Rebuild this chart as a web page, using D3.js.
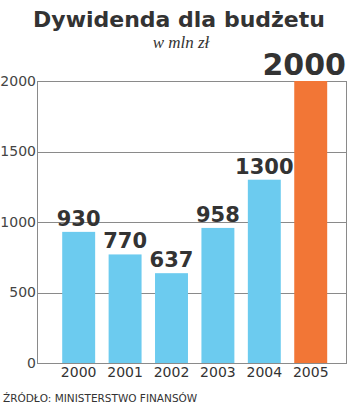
<!DOCTYPE html>
<html>
<head>
<meta charset="utf-8">
<script src="https://cdn.jsdelivr.net/npm/d3@7"></script>
<style>
  html, body { margin: 0; padding: 0; background: #fff; }
  svg { display: block; }
</style>
</head>
<body>
<svg id="chart" width="350" height="410"></svg>
<script>
// Dividends paid to the state budget, in millions of zloty
const years = ["2000", "2001", "2002", "2003", "2004", "2005"];
const values = [930, 770, 637, 958, 1300, 2000];
const yTicks = [0, 500, 1000, 1500, 2000];
const highlightYear = "2005";

const W = 350, H = 410;
const margin = { top: 81, right: 3, bottom: 47, left: 37 };
const left = margin.left, right = W - margin.right;
const frameColor = "#8a8a8a";
const sans = "'DejaVu Sans', sans-serif";

const svg = d3.select("#chart");

const x = d3.scaleBand()
  .domain(years)
  .range([left, right])
  .paddingInner(0.29)
  .paddingOuter(0.485)
  .align(0.56);

const y = d3.scaleLinear()
  .domain([0, 2000])
  .range([H - margin.bottom, margin.top]);

const rows = years.map((yr, i) => ({ year: yr, value: values[i] }));

// horizontal grid lines, including the top and bottom of the frame
svg.append("g")
  .selectAll("line")
  .data(yTicks)
  .join("line")
  .attr("x1", left).attr("x2", right)
  .attr("y1", d => Math.round(y(d)) + 0.5)
  .attr("y2", d => Math.round(y(d)) + 0.5)
  .attr("stroke", frameColor);

// left and right edges of the frame
[left + 0.5, right - 0.5].forEach(px => {
  svg.append("line")
    .attr("x1", px).attr("x2", px)
    .attr("y1", Math.round(y(2000)) + 0.5).attr("y2", Math.round(y(0)) + 0.5)
    .attr("stroke", frameColor);
});

// y axis labels
const gy = svg.append("g")
  .attr("transform", `translate(${left},0)`)
  .call(d3.axisLeft(y).tickValues(yTicks).tickFormat(d3.format("d")).tickSize(0).tickPadding(1));
gy.select(".domain").remove();
gy.selectAll("text")
  .attr("font-family", sans)
  .attr("font-size", 14)
  .attr("fill", "#444");

// bars
svg.append("g")
  .selectAll("rect")
  .data(rows)
  .join("rect")
  .attr("x", d => x(d.year))
  .attr("width", x.bandwidth())
  .attr("y", d => y(d.value))
  .attr("height", d => y(0) - y(d.value))
  .attr("fill", d => d.year === highlightYear ? "#f27636" : "#6ccbef");

// value labels, kept inside the right edge of the frame
const labels = svg.append("g")
  .selectAll("text")
  .data(rows)
  .join("text")
  .attr("y", d => y(d.value) - 6)
  .attr("text-anchor", "middle")
  .attr("font-family", sans)
  .attr("font-weight", 700)
  .attr("font-size", d => d.year === highlightYear ? 30 : 21)
  .attr("fill", "#333")
  .text(d => d.value);
labels.each(function (d) {
  const half = this.getComputedTextLength() / 2;
  const cx = Math.min(x(d.year) + x.bandwidth() / 2, right - 1 - half);
  d3.select(this).attr("x", cx);
});

// x axis labels
const gx = svg.append("g")
  .attr("transform", `translate(0,${y(0)})`)
  .call(d3.axisBottom(x).tickSize(0).tickPadding(4));
gx.select(".domain").remove();
gx.selectAll("text")
  .attr("font-family", sans)
  .attr("font-size", 14)
  .attr("fill", "#333");

// title and unit
svg.append("text")
  .attr("x", 179).attr("y", 27)
  .attr("text-anchor", "middle")
  .attr("font-family", sans)
  .attr("font-weight", 700)
  .attr("font-size", 22)
  .attr("fill", "#333")
  .text("Dywidenda dla budżetu");

svg.append("text")
  .attr("x", 181).attr("y", 48)
  .attr("text-anchor", "middle")
  .attr("font-family", "'Liberation Serif', serif")
  .attr("font-style", "italic")
  .attr("font-size", 17)
  .attr("fill", "#333")
  .text("w mln zł");

// source note
svg.append("text")
  .attr("x", 3).attr("y", 402)
  .attr("font-family", sans)
  .attr("font-size", 10.5)
  .attr("fill", "#333")
  .text("ŹRÓDŁO: MINISTERSTWO FINANSÓW");
</script>
</body>
</html>
